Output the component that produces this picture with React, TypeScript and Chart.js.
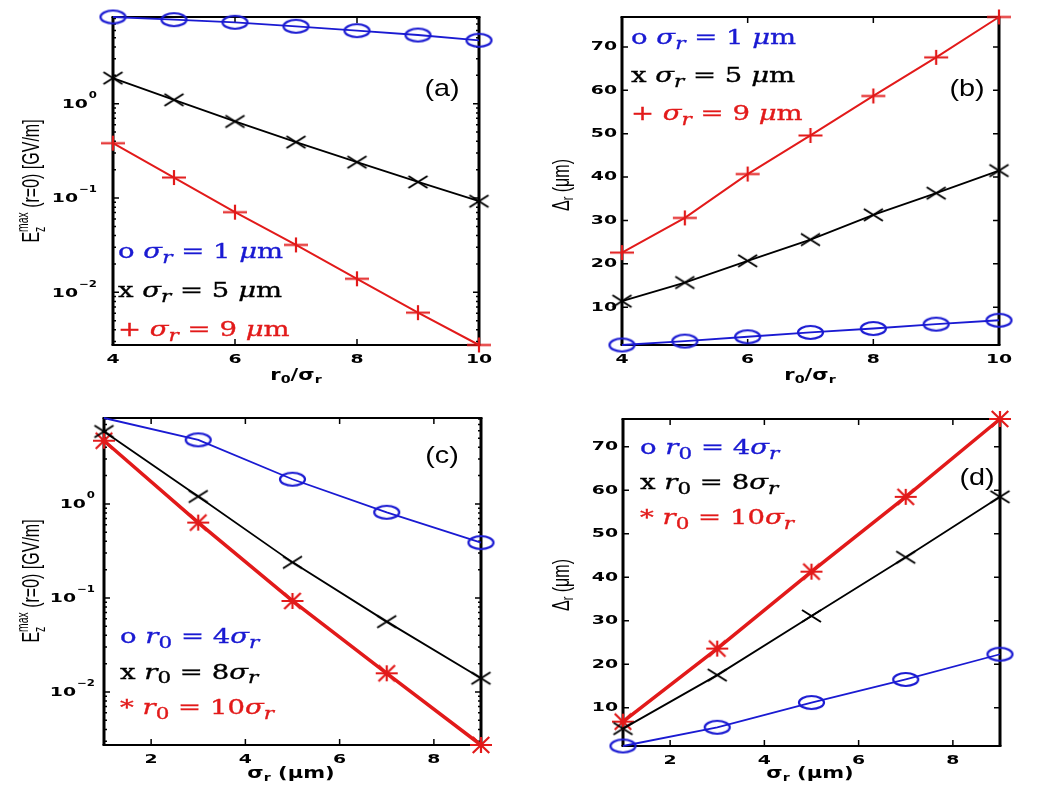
import { useEffect, useRef } from "react";
import type { CSSProperties, ReactNode } from "react";
import { Chart, LineController, LineElement, PointElement, LinearScale, LogarithmicScale } from "chart.js";

Chart.register(LineController, LineElement, PointElement, LinearScale, LogarithmicScale);

// x values
const ratioSteps = [4, 5, 6, 7, 8, 9, 10]; // r0 / sigma_r, panels (a) and (b)
const sigmaSteps = [1, 3, 5, 7, 9]; // sigma_r in um, panels (c) and (d)

// (a) Ez max at r=0 [GV/m] vs r0/sigma_r
const fieldA_s1 = [8.32, 7.8, 7.31, 6.63, 5.96, 5.36, 4.71];
const fieldA_s5 = [1.87, 1.1, 0.649, 0.392, 0.24, 0.148, 0.0925];
const fieldA_s9 = [0.382, 0.165, 0.0708, 0.0318, 0.0139, 0.00608, 0.00276];

// (b) Delta_r [um] vs r0/sigma_r
const widthB_s1 = [1.3, 2.2, 3.2, 4.2, 5.1, 6.1, 7.0];
const widthB_s5 = [11.4, 15.7, 20.7, 25.6, 31.3, 36.3, 41.5];
const widthB_s9 = [22.6, 30.6, 40.7, 49.6, 58.7, 67.6, 76.9];

// (c) Ez max at r=0 [GV/m] vs sigma_r
const fieldC_r4 = [8.2, 4.8, 1.83, 0.815, 0.388];
const fieldC_r8 = [5.9, 1.2, 0.239, 0.056, 0.014];
const fieldC_r10 = [4.7, 0.633, 0.0929, 0.0158, 0.00273];

// (d) Delta_r [um] vs sigma_r
const widthD_r4 = [1.2, 5.5, 11.2, 16.5, 22.3];
const widthD_r8 = [5.2, 17.5, 31.1, 44.6, 58.5];
const widthD_r10 = [6.8, 23.6, 41.3, 58.5, 76.4];

// axis limits and ticks
const ratioRange = [4, 10];
const sigmaRange = [1, 9];
const fieldRangeA = [0.00276, 8.32];
const fieldRangeC = [0.00273, 8.2];
const widthRangeB = [1.3, 76.9];
const widthRangeD = [1.2, 76.4];
const ratioTicks = [4, 6, 8, 10];
const sigmaTicks = [2, 4, 6, 8];
const fieldTicks = [0.01, 0.1, 1];
const widthTicks = [10, 20, 30, 40, 50, 60, 70];

// legend labels
const sigmaLabels = ["1", "5", "9"];
const r0Labels = ["4", "8", "10"];

const BLUE = "#1a1ad2";
const RED = "#e21a1a";
const BLACK = "#000";

type Marker = "o" | "x" | "+" | "*";

function makeMarker(kind: Marker, color: string) {
  const size: Record<Marker, [number, number, number]> = {
    o: [25, 13, 2.2],
    x: [19, 12, 2],
    "+": [24, 15, 2.2],
    "*": [22, 16, 2.2],
  };
  const [w, h, lw] = size[kind];
  const c = document.createElement("canvas");
  c.width = w + 6;
  c.height = h + 6;
  const g = c.getContext("2d")!;
  g.strokeStyle = color;
  g.lineWidth = lw;
  const cx = c.width / 2, cy = c.height / 2, rx = w / 2, ry = h / 2;
  g.beginPath();
  if (kind === "o") g.ellipse(cx, cy, rx, ry, 0, 0, Math.PI * 2);
  if (kind === "x" || kind === "*") {
    const sx = kind === "*" ? rx * 0.75 : rx;
    g.moveTo(cx - sx, cy - ry); g.lineTo(cx + sx, cy + ry);
    g.moveTo(cx + sx, cy - ry); g.lineTo(cx - sx, cy + ry);
  }
  if (kind === "+" || kind === "*") {
    g.moveTo(cx - rx, cy); g.lineTo(cx + rx, cy);
    g.moveTo(cx, cy - ry); g.lineTo(cx, cy + ry);
  }
  g.stroke();
  return c;
}

function stretchedText(ctx: CanvasRenderingContext2D, text: string, x: number, y: number, align: string, sx = 1.45) {
  const w = ctx.measureText(text).width * sx;
  const start = align === "center" ? x - w / 2 : align === "right" ? x - w : x;
  ctx.save();
  ctx.translate(start, y);
  ctx.scale(sx, 1);
  ctx.textAlign = "left";
  ctx.fillText(text, 0, 0);
  ctx.restore();
  return w;
}

const tickFont = 'bold 13px "DejaVu Sans", sans-serif';
const expFont = 'bold 9px "DejaVu Sans", sans-serif';

// matlab-like box, inward ticks and stretched bold tick labels
const matlabAxes = {
  id: "matlabAxes",
  beforeDatasetsDraw(chart: any, _args: unknown, opts: any) {
    const { ctx, chartArea: a } = chart;
    const xs = chart.scales.x, ys = chart.scales.y;
    ctx.save();
    ctx.strokeStyle = "#000";
    ctx.fillStyle = "#000";
    ctx.lineWidth = 1.5;
    ctx.beginPath();
    for (const t of xs.ticks) {
      const px = xs.getPixelForValue(t.value);
      ctx.moveTo(px, a.bottom); ctx.lineTo(px, a.bottom - 6);
      ctx.moveTo(px, a.top); ctx.lineTo(px, a.top + 6);
    }
    for (const t of ys.ticks) {
      const py = ys.getPixelForValue(t.value);
      ctx.moveTo(a.left, py); ctx.lineTo(a.left + 6, py);
      ctx.moveTo(a.right, py); ctx.lineTo(a.right - 6, py);
    }
    if (opts.logY) {
      for (let k = Math.floor(Math.log10(ys.min)); k <= Math.ceil(Math.log10(ys.max)); k++) {
        for (let m = 2; m <= 9; m++) {
          const v = m * Math.pow(10, k);
          if (v <= ys.min || v >= ys.max) continue;
          const py = ys.getPixelForValue(v);
          ctx.moveTo(a.left, py); ctx.lineTo(a.left + 3, py);
          ctx.moveTo(a.right, py); ctx.lineTo(a.right - 3, py);
        }
      }
    }
    ctx.stroke();

    ctx.lineWidth = 2;
    ctx.beginPath();
    ctx.moveTo(a.left - 1.5, a.top); ctx.lineTo(a.right + 1.5, a.top);
    ctx.moveTo(a.left - 1.5, a.bottom); ctx.lineTo(a.right + 1.5, a.bottom);
    ctx.stroke();
    ctx.lineWidth = 3;
    ctx.beginPath();
    ctx.moveTo(a.left, a.top); ctx.lineTo(a.left, a.bottom);
    ctx.moveTo(a.right, a.top); ctx.lineTo(a.right, a.bottom);
    ctx.stroke();

    ctx.textBaseline = "middle";
    ctx.font = tickFont;
    for (const t of xs.ticks) {
      stretchedText(ctx, String(t.value), xs.getPixelForValue(t.value), a.bottom + 15, "center");
    }
    const right = a.left - opts.yGap;
    for (const t of ys.ticks) {
      const py = ys.getPixelForValue(t.value);
      if (opts.logY) {
        const exp = String(Math.round(Math.log10(t.value))).replace("-", "\u2212");
        ctx.font = expFont;
        const ew = stretchedText(ctx, exp, right, py - 8, "right", 1.3);
        ctx.font = tickFont;
        stretchedText(ctx, "10", right - ew - 1, py + 1, "right");
      } else {
        stretchedText(ctx, String(t.value), right, py, "right");
      }
    }
    ctx.restore();
  },
};

type Series = { ys: number[]; color: string; marker: Marker; width: number; hideFirst?: boolean };
type Box = { left: number; top: number; width: number; height: number };
type Area = { left: number; top: number; right: number; bottom: number };

type PanelProps = {
  box: Box;
  area: Area;
  xs: number[];
  xRange: number[];
  xTicks: number[];
  yRange: number[];
  yTicks: number[];
  logY: boolean;
  yGap: number;
  series: Series[];
};

function Panel({ box, area, xs, xRange, xTicks, yRange, yTicks, logY, yGap, series }: PanelProps) {
  const ref = useRef<HTMLCanvasElement>(null);

  useEffect(() => {
    if (!ref.current) return;
    const yWidth = area.left - box.left;
    const xHeight = box.top + box.height - area.bottom;
    const chart = new Chart(ref.current, {
      type: "line",
      data: {
        datasets: series.map((s) => ({
          data: xs.map((x, i) => ({ x, y: s.ys[i] })),
          borderColor: s.color,
          borderWidth: s.width,
          pointStyle: makeMarker(s.marker, s.color),
          pointRadius: xs.map((_, i) => (s.hideFirst && i === 0 ? 0 : 8)),
          tension: 0,
          fill: false,
          clip: false,
        })),
      } as any,
      options: {
        animation: false,
        responsive: false,
        events: [],
        layout: { padding: { left: 0, top: area.top - box.top, right: box.left + box.width - area.right, bottom: 0 } },
        scales: {
          x: {
            type: "linear",
            min: xRange[0],
            max: xRange[1],
            grid: { display: false },
            border: { display: false },
            ticks: { display: false },
            afterBuildTicks: (s: any) => { s.ticks = xTicks.map((value) => ({ value })); },
            afterFit: (s: any) => { s.height = xHeight; },
          },
          y: {
            type: logY ? "logarithmic" : "linear",
            min: yRange[0],
            max: yRange[1],
            grid: { display: false },
            border: { display: false },
            ticks: { display: false },
            afterBuildTicks: (s: any) => { s.ticks = yTicks.map((value) => ({ value })); },
            afterFit: (s: any) => { s.width = yWidth; },
          },
        },
        plugins: { matlabAxes: { logY, yGap } } as any,
      },
      plugins: [matlabAxes],
    });
    return () => chart.destroy();
  }, []);

  return (
    <canvas
      ref={ref}
      width={box.width}
      height={box.height}
      style={{ position: "absolute", left: box.left, top: box.top }}
    />
  );
}

const subStyle: CSSProperties = { fontSize: "0.68em", position: "relative", top: "0.32em", lineHeight: 0 };
const legendSub: CSSProperties = { fontSize: "0.78em", position: "relative", top: "0.3em", lineHeight: 0 };

function LegendBox({ left, top, lineHeight, children }: { left: number; top: number; lineHeight: number; children: ReactNode }) {
  return (
    <div
      style={{
        position: "absolute",
        left,
        top,
        transform: "scaleX(1.31)",
        transformOrigin: "left top",
        font: '21px "DejaVu Serif", serif',
        lineHeight: lineHeight + "px",
        whiteSpace: "nowrap",
        WebkitTextStroke: "0.35px currentColor",
      }}
    >
      {children}
    </div>
  );
}

const sigmaLine = (mark: string, v: string, color: string) => (
  <div style={{ color }} key={mark}>
    {mark} <i>σ</i><i style={legendSub}>r</i> = {v} <i>μ</i>m
  </div>
);
const r0Line = (mark: string, v: string, color: string) => (
  <div style={{ color }} key={mark}>
    {mark} <i>r</i><span style={legendSub}>0</span> = {v}<i>σ</i><i style={legendSub}>r</i>
  </div>
);

function centered(x: number, y: number, extra: string, font: string): CSSProperties {
  return {
    position: "absolute",
    left: x,
    top: y,
    transform: `translate(-50%, -50%) ${extra}`,
    font,
    whiteSpace: "nowrap",
    color: "#000",
  };
}

const fieldTitle = (
  <>
    E
    <span style={{ display: "inline-block", verticalAlign: "-0.4em", fontSize: "0.65em", lineHeight: "1.1em" }}>
      <span style={{ display: "block" }}>max</span>
      <span style={{ display: "block" }}>z</span>
    </span>{" "}
    (r=0) [GV/m]
  </>
);
const widthTitle = (
  <>
    Δ<span style={subStyle}>r</span> (μm)
  </>
);
const ratioTitle = (
  <>
    r<span style={subStyle}>0</span>/σ<span style={subStyle}>r</span>
  </>
);
const sigmaTitle = (
  <>
    σ<span style={subStyle}>r</span> (μm)
  </>
);

const yTitleFont = '16px "Liberation Sans", Arial, sans-serif';
const xTitleFont = 'bold 15px "DejaVu Sans", sans-serif';
const letterFont = '24px "Liberation Sans", Arial, sans-serif';

export default function App() {
  return (
    <div
      style={{
        position: "absolute",
        left: 0,
        top: 0,
        width: 1058,
        height: 794,
        background: "#fff",
        overflow: "hidden",
      }}
    >
      <Panel
        box={{ left: 0, top: 0, width: 520, height: 395 }}
        area={{ left: 113, top: 17, right: 479, bottom: 345 }}
        xs={ratioSteps}
        xRange={ratioRange}
        xTicks={ratioTicks}
        yRange={fieldRangeA}
        yTicks={fieldTicks}
        logY
        yGap={16}
        series={[
          { ys: fieldA_s1, color: BLUE, marker: "o", width: 1.8 },
          { ys: fieldA_s5, color: BLACK, marker: "x", width: 1.8 },
          { ys: fieldA_s9, color: RED, marker: "+", width: 2 },
        ]}
      />
      <Panel
        box={{ left: 520, top: 0, width: 538, height: 395 }}
        area={{ left: 622, top: 17, right: 999, bottom: 345 }}
        xs={ratioSteps}
        xRange={ratioRange}
        xTicks={ratioTicks}
        yRange={widthRangeB}
        yTicks={widthTicks}
        logY={false}
        yGap={5}
        series={[
          { ys: widthB_s1, color: BLUE, marker: "o", width: 1.8 },
          { ys: widthB_s5, color: BLACK, marker: "x", width: 1.8 },
          { ys: widthB_s9, color: RED, marker: "+", width: 2 },
        ]}
      />
      <Panel
        box={{ left: 0, top: 395, width: 520, height: 399 }}
        area={{ left: 104, top: 418, right: 481, bottom: 745 }}
        xs={sigmaSteps}
        xRange={sigmaRange}
        xTicks={sigmaTicks}
        yRange={fieldRangeC}
        yTicks={fieldTicks}
        logY
        yGap={9}
        series={[
          { ys: fieldC_r4, color: BLUE, marker: "o", width: 1.8, hideFirst: true },
          { ys: fieldC_r8, color: BLACK, marker: "x", width: 1.8 },
          { ys: fieldC_r10, color: RED, marker: "*", width: 3.5 },
        ]}
      />
      <Panel
        box={{ left: 520, top: 395, width: 538, height: 399 }}
        area={{ left: 623, top: 419, right: 1000, bottom: 746 }}
        xs={sigmaSteps}
        xRange={sigmaRange}
        xTicks={sigmaTicks}
        yRange={widthRangeD}
        yTicks={widthTicks}
        logY={false}
        yGap={5}
        series={[
          { ys: widthD_r4, color: BLUE, marker: "o", width: 1.8 },
          { ys: widthD_r8, color: BLACK, marker: "x", width: 1.8 },
          { ys: widthD_r10, color: RED, marker: "*", width: 3.5 },
        ]}
      />

      {/* axis titles */}
      <div style={centered(32, 181, "rotate(-90deg) scaleY(1.5)", yTitleFont)}>{fieldTitle}</div>
      <div style={centered(32, 581, "rotate(-90deg) scaleY(1.5)", yTitleFont)}>{fieldTitle}</div>
      <div style={centered(561, 185, "rotate(-90deg) scaleY(1.5)", yTitleFont)}>{widthTitle}</div>
      <div style={centered(561, 585, "rotate(-90deg) scaleY(1.5)", yTitleFont)}>{widthTitle}</div>
      <div style={centered(296, 375, "scaleX(1.4)", xTitleFont)}>{ratioTitle}</div>
      <div style={centered(810, 375, "scaleX(1.4)", xTitleFont)}>{ratioTitle}</div>
      <div style={centered(291, 773, "scaleX(1.4)", xTitleFont)}>{sigmaTitle}</div>
      <div style={centered(810, 773, "scaleX(1.4)", xTitleFont)}>{sigmaTitle}</div>

      {/* panel letters */}
      <div style={centered(442, 88, "scaleX(1.2)", letterFont)}>(a)</div>
      <div style={centered(967, 88, "scaleX(1.2)", letterFont)}>(b)</div>
      <div style={centered(442, 455, "scaleX(1.2)", letterFont)}>(c)</div>
      <div style={centered(977, 477, "scaleX(1.2)", letterFont)}>(d)</div>

      {/* legends */}
      <LegendBox left={118} top={232} lineHeight={39}>
        {sigmaLine("o", sigmaLabels[0], BLUE)}
        {sigmaLine("x", sigmaLabels[1], BLACK)}
        {sigmaLine("+", sigmaLabels[2], RED)}
      </LegendBox>
      <LegendBox left={631} top={18} lineHeight={38}>
        {sigmaLine("o", sigmaLabels[0], BLUE)}
        {sigmaLine("x", sigmaLabels[1], BLACK)}
        {sigmaLine("+", sigmaLabels[2], RED)}
      </LegendBox>
      <LegendBox left={120} top={619} lineHeight={35.5}>
        {r0Line("o", r0Labels[0], BLUE)}
        {r0Line("x", r0Labels[1], BLACK)}
        {r0Line("*", r0Labels[2], RED)}
      </LegendBox>
      <LegendBox left={640} top={430} lineHeight={35}>
        {r0Line("o", r0Labels[0], BLUE)}
        {r0Line("x", r0Labels[1], BLACK)}
        {r0Line("*", r0Labels[2], RED)}
      </LegendBox>
    </div>
  );
}
